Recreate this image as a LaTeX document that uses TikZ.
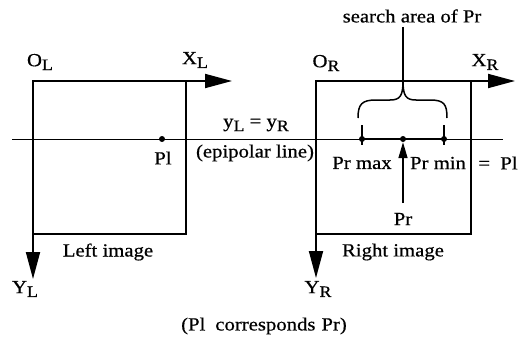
\documentclass[tikz,border=0pt]{standalone}
\usepackage{fontspec}
\setmainfont{Liberation Serif}[FakeStretch=1.12,FakeBold=0.6]
\usetikzlibrary{arrows.meta}
\newcommand\subL[1]{\raisebox{-0.45ex}{\fontsize{16}{16}\selectfont #1}}
\tikzset{
  axis/.style={line width=1.8pt,-{Triangle[length=27pt,width=14pt]}},
  imgbox/.style={line width=1.2pt},
  epi/.style={line width=1pt},
  seg/.style={line width=2pt},
  tick/.style={line width=1.4pt},
  dotp/.style={circle,fill=black,inner sep=0pt,minimum size=6pt},
  lbl/.style={inner sep=0pt,font=\fontsize{18.5}{21}\selectfont}
}
\begin{document}
\begin{tikzpicture}[x=1pt,y=-1pt]
\useasboundingbox (0,0) rectangle (525,337);
% left image
\coordinate (oL) at (33,81);
\coordinate (xL) at (232,81);
\coordinate (yL) at (33,279);
\coordinate (bL) at (186,234);
\draw[imgbox] (oL) rectangle (bL);
\draw[axis] (oL) -- (xL);
\draw[axis] (oL) -- (yL);
% right image
\coordinate (oR) at (316,81);
\coordinate (xR) at (515,81);
\coordinate (yR) at (316,278);
\coordinate (bR) at (471,234);
\draw[imgbox] (oR) rectangle (bR);
\draw[axis] (oR) -- (xR);
\draw[axis] (oR) -- (yR);
% epipolar line
\coordinate (e1) at (12,139);
\coordinate (e2) at (503,139);
\draw[epi] (e1) -- (e2);
% points
\node[dotp] (Pl) at (162,139) {};
\node[dotp] (pmax) at (362,139) {};
\node[dotp] (pc) at (403,139) {};
\node[dotp] (pmin) at (444,139) {};
\draw[seg] (pmax.center) -- (pmin.center);
\coordinate (t1) at (362,125);
\coordinate (t1b) at (362,145);
\coordinate (t2) at (444,125);
\coordinate (t2b) at (444,145);
\draw[tick] (t1) -- (t1b);
\draw[tick] (t2) -- (t2b);
% brace
\coordinate (btip) at (403,81);
\draw[line width=1.5pt] (358,118) .. controls (358,104) and (362,100) .. (376,100)
  -- (390,100) .. controls (400,100) and (403,96) .. (btip)
  .. controls (403,96) and (406,100) .. (416,100)
  -- (430,100) .. controls (444,100) and (447,104) .. (447,118);
% labels
\node[lbl] (OLl) at (40,62) {O\subL{L}};
\node[lbl] (XLl) at (195,60) {X\subL{L}};
\node[lbl] (YLl) at (25,289) {Y\subL{L}};
\node[lbl] (ORl) at (326,63) {O\subL{R}};
\node[lbl] (XRl) at (485,62) {X\subL{R}};
\node[lbl] (YRl) at (318,289) {Y\subL{R}};
\node[lbl] (search) at (412,16) {search area of Pr};
\coordinate (stop) at (403,27);
\draw[line width=1.4pt] (stop) -- (btip);
\node[lbl] (Pllbl) at (163,158) {Pl};
\node[lbl] (eq) at (256,125) {y\subL{L} = y\subL{R}};
\node[lbl] (epil) at (255,153) {(epipolar line)};
\node[lbl] (maxl) at (362,163) {Pr max};
\node[lbl] (minl) at (438,163) {Pr min};
\node[lbl] (eqpl) at (498,163) {=\ \ Pl};
\node[lbl] (Prl) at (403,219) {Pr};
\coordinate (Prbot) at (403,203);
\draw[line width=1.5pt,-{Triangle[length=16pt,width=9pt]}] (Prbot) -- (pc.south);
\node[lbl] (leftimg) at (108,252) {Left image};
\node[lbl] (rightimg) at (393,252) {Right image};
\node[lbl] (cap) at (264,326) {(Pl\hspace{10pt}corresponds\hspace{6pt}Pr)};
\end{tikzpicture}
\end{document}
